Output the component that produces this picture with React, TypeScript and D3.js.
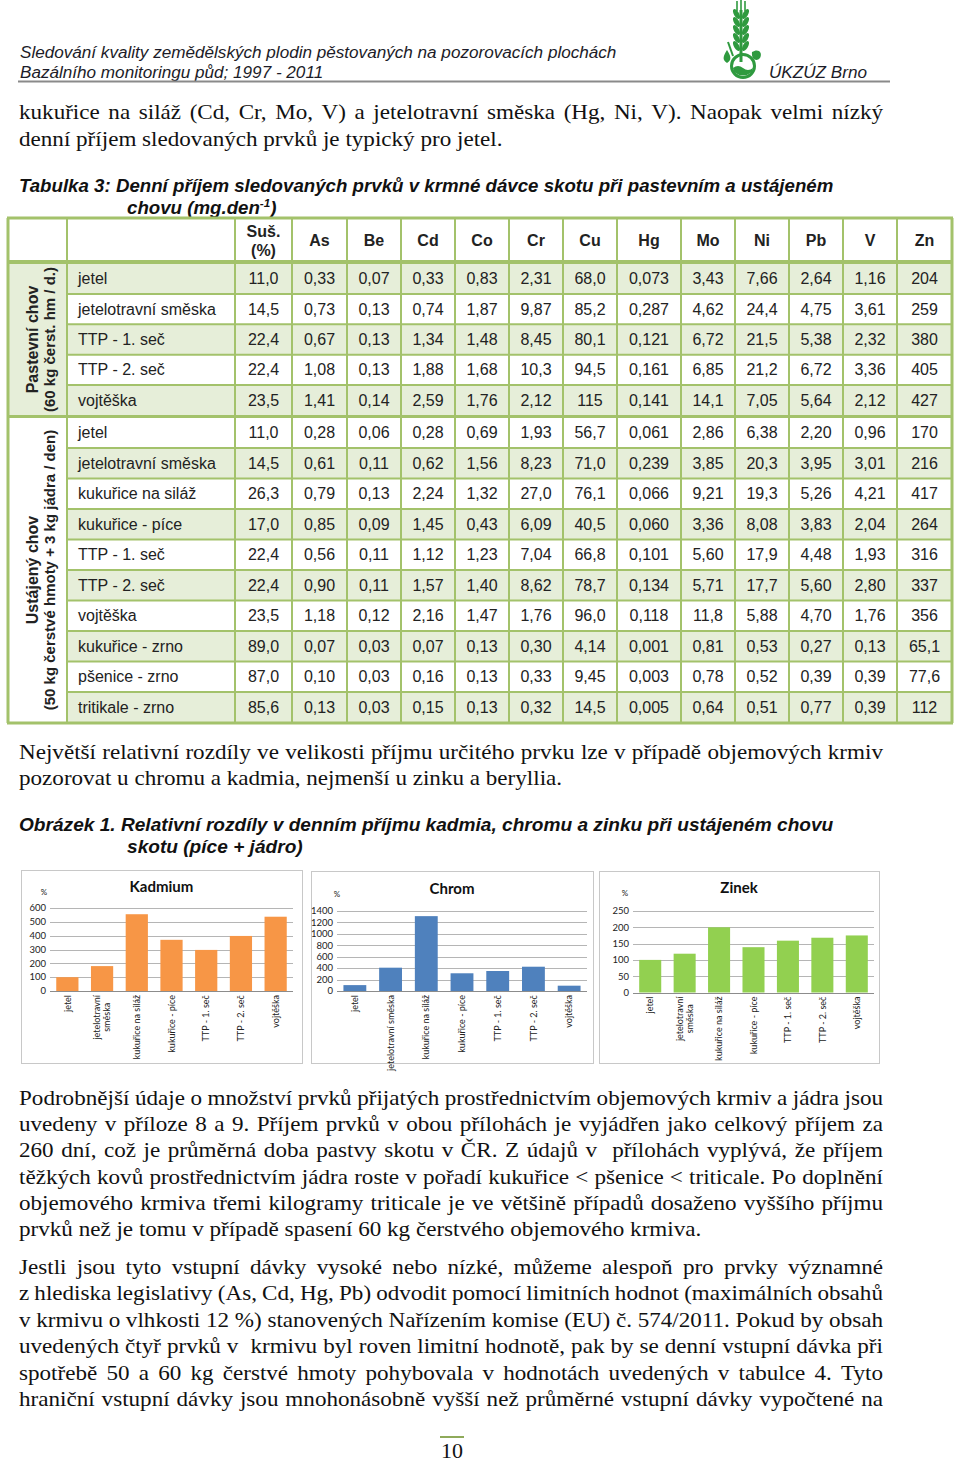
import React from "react";
import * as d3 from "d3";

// ---------------- DATA ----------------
const headerLine1 = "Sledování kvality zemědělských plodin pěstovaných na pozorovacích plochách";
const headerLine2 = "Bazálního monitoringu půd; 1997 - 2011";
const headerOrg = "ÚKZÚZ Brno";

const para1Lines = [
  "kukuřice na siláž (Cd, Cr, Mo, V) a jetelotravní směska (Hg, Ni, V). Naopak velmi nízký",
  "denní příjem sledovaných prvků je typický pro jetel.",
];
const tableCaption = "Tabulka 3: Denní příjem sledovaných prvků v krmné dávce skotu při pastevním a ustájeném";
const tableCaption2 = "chovu (mg.den";

const elementColumns = ["As", "Be", "Cd", "Co", "Cr", "Cu", "Hg", "Mo", "Ni", "Pb", "V", "Zn"];

const pastureLabel = ["Pastevní chov", "(60 kg čerst. hm / d.)"];
const pastureCrops = ["jetel", "jetelotravní směska", "TTP - 1. seč", "TTP - 2. seč", "vojtěška"];
const pastureValues = [
  ["11,0", "0,33", "0,07", "0,33", "0,83", "2,31", "68,0", "0,073", "3,43", "7,66", "2,64", "1,16", "204"],
  ["14,5", "0,73", "0,13", "0,74", "1,87", "9,87", "85,2", "0,287", "4,62", "24,4", "4,75", "3,61", "259"],
  ["22,4", "0,67", "0,13", "1,34", "1,48", "8,45", "80,1", "0,121", "6,72", "21,5", "5,38", "2,32", "380"],
  ["22,4", "1,08", "0,13", "1,88", "1,68", "10,3", "94,5", "0,161", "6,85", "21,2", "6,72", "3,36", "405"],
  ["23,5", "1,41", "0,14", "2,59", "1,76", "2,12", "115", "0,141", "14,1", "7,05", "5,64", "2,12", "427"],
];

const stableLabel = ["Ustájený chov", "(50 kg čerstvé hmoty + 3 kg jádra / den)"];
const stableCrops = [
  "jetel", "jetelotravní směska", "kukuřice na siláž", "kukuřice - píce", "TTP - 1. seč",
  "TTP - 2. seč", "vojtěška", "kukuřice - zrno", "pšenice - zrno", "tritikale - zrno",
];
const stableValues = [
  ["11,0", "0,28", "0,06", "0,28", "0,69", "1,93", "56,7", "0,061", "2,86", "6,38", "2,20", "0,96", "170"],
  ["14,5", "0,61", "0,11", "0,62", "1,56", "8,23", "71,0", "0,239", "3,85", "20,3", "3,95", "3,01", "216"],
  ["26,3", "0,79", "0,13", "2,24", "1,32", "27,0", "76,1", "0,066", "9,21", "19,3", "5,26", "4,21", "417"],
  ["17,0", "0,85", "0,09", "1,45", "0,43", "6,09", "40,5", "0,060", "3,36", "8,08", "3,83", "2,04", "264"],
  ["22,4", "0,56", "0,11", "1,12", "1,23", "7,04", "66,8", "0,101", "5,60", "17,9", "4,48", "1,93", "316"],
  ["22,4", "0,90", "0,11", "1,57", "1,40", "8,62", "78,7", "0,134", "5,71", "17,7", "5,60", "2,80", "337"],
  ["23,5", "1,18", "0,12", "2,16", "1,47", "1,76", "96,0", "0,118", "11,8", "5,88", "4,70", "1,76", "356"],
  ["89,0", "0,07", "0,03", "0,07", "0,13", "0,30", "4,14", "0,001", "0,81", "0,53", "0,27", "0,13", "65,1"],
  ["87,0", "0,10", "0,03", "0,16", "0,13", "0,33", "9,45", "0,003", "0,78", "0,52", "0,39", "0,39", "77,6"],
  ["85,6", "0,13", "0,03", "0,15", "0,13", "0,32", "14,5", "0,005", "0,64", "0,51", "0,77", "0,39", "112"],
];

const para2Lines = [
  "Největší relativní rozdíly ve velikosti příjmu určitého prvku lze v případě objemových krmiv",
  "pozorovat u chromu a kadmia, nejmenší u zinku a beryllia.",
];
const figureCaption = "Obrázek 1. Relativní rozdíly v denním příjmu kadmia, chromu a zinku při ustájeném chovu";
const figureCaption2 = "skotu (píce + jádro)";

const chartCategories = [
  "jetel", "jetelotravní směska", "kukuřice na siláž", "kukuřice - píce", "TTP - 1. seč", "TTP - 2. seč", "vojtěška",
];
const cadmiumRelative = [100, 180, 555, 370, 297, 398, 537];
const chromiumRelative = [103, 408, 1310, 310, 350, 425, 93];
const zincRelative = [100, 119, 200, 139, 159, 168, 175];
const cadmiumTicks = [0, 100, 200, 300, 400, 500, 600];
const chromiumTicks = [0, 200, 400, 600, 800, 1000, 1200, 1400];
const zincTicks = [0, 50, 100, 150, 200, 250];

const para3Lines = [
  "Podrobnější údaje o množství prvků přijatých prostřednictvím objemových krmiv a jádra jsou",
  "uvedeny v příloze 8 a 9. Příjem prvků v obou přílohách je vyjádřen jako celkový příjem za",
  "260 dní, což je průměrná doba pastvy skotu v ČR. Z údajů v  přílohách vyplývá, že příjem",
  "těžkých kovů prostřednictvím jádra roste v pořadí kukuřice < pšenice < triticale. Po doplnění",
  "objemového krmiva třemi kilogramy triticale je ve většině případů dosaženo vyššího příjmu",
  "prvků než je tomu v případě spasení 60 kg čerstvého objemového krmiva.",
];
const para4Lines = [
  "Jestli jsou tyto vstupní dávky vysoké nebo nízké, můžeme alespoň pro prvky významné",
  "z hlediska legislativy (As, Cd, Hg, Pb) odvodit pomocí limitních hodnot (maximálních obsahů",
  "v krmivu o vlhkosti 12 %) stanovených Nařízením komise (EU) č. 574/2011. Pokud by obsah",
  "uvedených čtyř prvků v  krmivu byl roven limitní hodnotě, pak by se denní vstupní dávka při",
  "spotřebě 50 a 60 kg čerstvé hmoty pohybovala v hodnotách uvedených v tabulce 4. Tyto",
  "hraniční vstupní dávky jsou mnohonásobně vyšší než průměrné vstupní dávky vypočtené na",
];
const pageNumber = "10";

// ---------------- STYLE / LAYOUT ----------------
const SANS = "'Liberation Sans', Arial, sans-serif";
const SERIF = "'Liberation Serif', 'Times New Roman', serif";
const CHART = "Lato, 'Open Sans', sans-serif";
const GREEN_LINE = "#a3c26b";
const GREEN_FILL = "#e6eed9";
const TEXT_W = 864;
const TEXT_X = 19;
const BODY_SIZE = 22;
const BODY_SX = 1.05;

let _ctx: CanvasRenderingContext2D | null = null;
function measure(text: string, font: string): number {
  if (!_ctx && typeof document !== "undefined") _ctx = document.createElement("canvas").getContext("2d");
  if (!_ctx) return text.length * 8;
  _ctx.font = font;
  return _ctx.measureText(text).width;
}

function BodyLine({ text, x, y, width, justify }: any) {
  const font = `${BODY_SIZE}px ${SERIF}`;
  const tr = `translate(${x},${y}) scale(${BODY_SX},1)`;
  if (!justify) {
    return (
      <text transform={tr} fontFamily={SERIF} fontSize={BODY_SIZE} fill="#111">{text}</text>
    );
  }
  const localW = width / BODY_SX;
  const words = text.split(/ /);
  const widths = words.map((w: string) => measure(w, font));
  const total = d3.sum(widths);
  const gap = (localW - total) / (words.length - 1);
  let cx = 0;
  const spans = words.map((w: string, i: number) => {
    const el = <tspan key={i} x={cx}>{w}</tspan>;
    cx += widths[i] + gap;
    return el;
  });
  return (
    <text transform={tr} fontFamily={SERIF} fontSize={BODY_SIZE} fill="#111">{spans}</text>
  );
}

function Paragraph({ lines, y0, lineH, lastJustified }: any) {
  return (
    <g>
      {lines.map((l: string, i: number) => (
        <BodyLine key={i} text={l} x={TEXT_X} y={y0 + i * lineH} width={TEXT_W}
          justify={i < lines.length - 1 || lastJustified} />
      ))}
    </g>
  );
}

function Caption({ line1, line2, sup, y }: any) {
  const size = 17.5;
  const font = `italic bold ${size}px ${SANS}`;
  const natural = measure(line1, font);
  const sx = 815 / natural;
  return (
    <g fontFamily={SANS} fontStyle="italic" fontWeight="bold" fontSize={size} fill="#111">
      <text transform={`translate(${TEXT_X},${y}) scale(${sx},1)`}>{line1}</text>
      <text transform={`translate(127,${y + 22}) scale(${sx},1)`}>
        {line2}
        {sup ? (
          <>
            <tspan dy={-7} fontSize={11}>{sup}</tspan>
            <tspan dy={7}>)</tspan>
          </>
        ) : null}
      </text>
    </g>
  );
}

function Logo() {
  const g = "#2f9a3f";
  const grains = [14, 22, 30, 38, 46];
  return (
    <g fill={g} stroke="none">
      <line x1={737} y1={1} x2={737} y2={11} stroke={g} strokeWidth={1.6} />
      <line x1={741} y1={0} x2={741} y2={10} stroke={g} strokeWidth={1.6} />
      <line x1={745} y1={1} x2={745} y2={11} stroke={g} strokeWidth={1.6} />
      <line x1={741} y1={10} x2={741} y2={62} stroke={g} strokeWidth={3} />
      {grains.map((gy, i) => (
        <g key={i}>
          <ellipse cx={736.5} cy={gy} rx={2.6} ry={5.5} transform={`rotate(-30 736.5 ${gy})`} />
          <ellipse cx={745.5} cy={gy} rx={2.6} ry={5.5} transform={`rotate(30 745.5 ${gy})`} />
        </g>
      ))}
      <path d="M727,50 C723,56 722,60 727,63 C732,60 731,56 727,50 Z" />
      <path d="M752,52 C758,48 763,52 760,58 C757,62 751,60 752,52 Z" />
      <circle cx={743} cy={66} r={11.5} fill="none" stroke={g} strokeWidth={3} />
      <path d="M733,68 Q738,64 743,68 T753,68 L752,72 Q743,79 734,72 Z" />
      <line x1={728} y1={42} x2={733} y2={56} stroke={g} strokeWidth={2} />
    </g>
  );
}

function Header() {
  const size = 17;
  const font = `italic ${size}px ${SANS}`;
  const sx = 597 / measure(headerLine1, font);
  return (
    <g fontFamily={SANS} fontStyle="italic" fontSize={size} fill="#1c1c28">
      <text transform={`translate(20,58) scale(${sx},1)`}>{headerLine1}</text>
      <text transform={`translate(20,78) scale(${sx},1)`}>{headerLine2}</text>
      <text transform={`translate(769,78) scale(${sx},1)`}>{headerOrg}</text>
      <line x1={18} x2={890} y1={81.5} y2={81.5} stroke="#8a8a8a" strokeWidth={2} />
      <Logo />
    </g>
  );
}

const COL_EDGES = [8, 67, 235, 292, 347, 401, 455, 509, 563, 617, 681, 735, 789, 843, 897, 952];
const TABLE_TOP = 218;
const HEADER_BOTTOM = 262;

function Table() {
  const groups = [
    { label: pastureLabel, crops: pastureCrops, values: pastureValues, top: 263.5, rowH: 30.4, firstFill: true, labelFill: GREEN_FILL },
    { label: stableLabel, crops: stableCrops, values: stableValues, top: 417.5, rowH: 30.5, firstFill: false, labelFill: "#fff" },
  ];
  const left = COL_EDGES[0];
  const right = COL_EDGES[COL_EDGES.length - 1];
  const fills: any[] = [];
  const hLines: any[] = [];
  const texts: any[] = [];
  groups.forEach((grp, gi) => {
    const bottom = grp.top + grp.crops.length * grp.rowH;
    fills.push(<rect key={`gl${gi}`} x={left} y={grp.top} width={COL_EDGES[1] - left} height={bottom - grp.top} fill={grp.labelFill} />);
    grp.crops.forEach((crop, ri) => {
      const y = grp.top + ri * grp.rowH;
      const green = (ri % 2 === 0) === grp.firstFill;
      if (green) fills.push(<rect key={`f${gi}-${ri}`} x={COL_EDGES[1]} y={y} width={right - COL_EDGES[1]} height={grp.rowH} fill={GREEN_FILL} />);
      if (ri > 0) hLines.push(<line key={`h${gi}-${ri}`} x1={COL_EDGES[1]} x2={right} y1={y} y2={y} stroke={GREEN_LINE} strokeWidth={2} />);
      const cy = y + grp.rowH / 2 + 5.5;
      texts.push(<text key={`n${gi}-${ri}`} x={COL_EDGES[1] + 11} y={cy}>{crop}</text>);
      grp.values[ri].forEach((v, ci) => {
        const cx = (COL_EDGES[ci + 2] + COL_EDGES[ci + 3]) / 2;
        texts.push(<text key={`v${gi}-${ri}-${ci}`} x={cx} y={cy} textAnchor="middle">{v}</text>);
      });
    });
    const cyMid = (grp.top + bottom) / 2;
    const xs = [32, 50];
    const sizes = [16, 15];
    grp.label.forEach((l, li) => {
      texts.push(
        <text key={`gl${gi}-${li}`} transform={`translate(${xs[li]},${cyMid}) rotate(-90)`} textAnchor="middle" dy="0.36em" fontWeight="bold" fontSize={sizes[li]}>{l}</text>
      );
    });
  });
  const headers = ["", ...elementColumns];
  return (
    <g fontFamily={SANS} fontSize={16} fill="#222">
      <rect x={left} y={TABLE_TOP} width={right - left} height={HEADER_BOTTOM - TABLE_TOP} fill="#fff" />
      {fills}
      {hLines}
      {COL_EDGES.map((x, i) => (
        <line key={`v${i}`} x1={x} x2={x} y1={TABLE_TOP} y2={723} stroke={GREEN_LINE} strokeWidth={i === 0 || i === COL_EDGES.length - 1 ? 3 : 2} />
      ))}
      {[TABLE_TOP, HEADER_BOTTOM, 416.5, 723].map((y, i) => (
        <line key={`t${i}`} x1={left - 1} x2={right + 1} y1={y} y2={y} stroke={GREEN_LINE} strokeWidth={i === 1 ? 4 : 3} />
      ))}
      <g fontWeight="bold">
        <text x={(COL_EDGES[2] + COL_EDGES[3]) / 2} y={237} textAnchor="middle">Suš.</text>
        <text x={(COL_EDGES[2] + COL_EDGES[3]) / 2} y={256} textAnchor="middle">(%)</text>
        {headers.map((h, i) => (i === 0 ? null : (
          <text key={h} x={(COL_EDGES[i + 2] + COL_EDGES[i + 3]) / 2} y={246} textAnchor="middle">{h}</text>
        )))}
      </g>
      {texts}
    </g>
  );
}

function BarChart({ cfg }: any) {
  const x = d3.scaleBand().domain(chartCategories).range([cfg.plotLeft, cfg.plotRight]).paddingInner(0.36).paddingOuter(0.18);
  const y = d3.scaleLinear().domain([0, d3.max(cfg.ticks) as number]).range([cfg.plotBottom, cfg.plotTop]);
  const labelSize = 9;
  const labelFont = `${labelSize}px ${CHART}`;
  return (
    <g fontFamily={CHART}>
      <rect x={cfg.box[0] + 0.5} y={cfg.box[1] + 0.5} width={cfg.box[2] - cfg.box[0]} height={cfg.box[3] - cfg.box[1]} fill="#fff" stroke="#c8c8c8" />
      <text x={(cfg.box[0] + cfg.box[2]) / 2} y={cfg.titleY} dy="0.35em" textAnchor="middle" fontWeight="bold" fontSize={15} fill="#111">{cfg.title}</text>
      <text x={cfg.pct[0]} y={cfg.pct[1]} dy="0.35em" textAnchor="middle" fontSize={8} fill="#222">%</text>
      {cfg.ticks.map((t: number) => (
        <g key={t}>
          <line x1={cfg.plotLeft} x2={cfg.plotRight} y1={Math.round(y(t)) + 0.5} y2={Math.round(y(t)) + 0.5} stroke={t === 0 ? "#8c8c8c" : "#b5b5b5"} />
          <text x={cfg.plotLeft - 4} y={y(t)} dy="0.35em" textAnchor="end" fontSize={9.5} fill="#222">{t}</text>
        </g>
      ))}
      {cfg.values.map((v: number, i: number) => {
        const c = chartCategories[i];
        return <rect key={c} x={x(c)} y={y(v)} width={x.bandwidth()} height={y(0) - y(v)} fill={cfg.color} />;
      })}
      {chartCategories.map((c) => {
        const lines = c.length > cfg.wrapAt ? c.split(" ") : [c];
        const longest = d3.max(lines, (l) => measure(l, labelFont)) as number;
        const cx = (x(c) as number) + x.bandwidth() / 2;
        const cy = cfg.plotBottom + 4 + longest / 2;
        return lines.map((l, li) => (
          <text key={c + li} transform={`translate(${cx + (li - (lines.length - 1) / 2) * 10},${cy}) rotate(-90)`} textAnchor="middle" dy="0.35em" fontSize={labelSize} fill="#222">{l}</text>
        ));
      })}
    </g>
  );
}

const charts = [
  { title: "Kadmium", values: cadmiumRelative, ticks: cadmiumTicks, color: "#f79646", box: [21, 870, 302, 1063], plotLeft: 50, plotRight: 293, plotTop: 908, plotBottom: 991, titleY: 887, pct: [44, 892], wrapAt: 18 },
  { title: "Chrom", values: chromiumRelative, ticks: chromiumTicks, color: "#4f81bd", box: [311, 871, 593, 1063], plotLeft: 337, plotRight: 587, plotTop: 911, plotBottom: 991, titleY: 889, pct: [337, 894], wrapAt: 99 },
  { title: "Zinek", values: zincRelative, ticks: zincTicks, color: "#92d050", box: [599, 871, 879, 1063], plotLeft: 633, plotRight: 874, plotTop: 911, plotBottom: 992.5, titleY: 888, pct: [625, 893], wrapAt: 18 },
];

export default function App() {
  return (
    <div style={{ position: "absolute", left: 0, top: 0, width: 960, height: 1462, background: "#fff" }}>
      <svg width={960} height={1462} viewBox="0 0 960 1462" style={{ display: "block" }}>
        <rect width={960} height={1462} fill="#fff" />
        <Header />
        <Paragraph lines={para1Lines} y0={119} lineH={27} lastJustified={false} />
        <Caption line1={tableCaption} line2={tableCaption2} sup="-1" y={192} />
        <Table />
        <Paragraph lines={para2Lines} y0={759} lineH={26} lastJustified={false} />
        <Caption line1={figureCaption} line2={figureCaption2} y={831} />
        {charts.map((c) => <BarChart key={c.title} cfg={c} />)}
        <Paragraph lines={para3Lines} y0={1105} lineH={26.2} lastJustified={false} />
        <Paragraph lines={para4Lines} y0={1274} lineH={26.4} lastJustified={true} />
        <line x1={440} x2={464} y1={1437} y2={1437} stroke="#8faa5a" strokeWidth={2} />
        <text x={452} y={1458} textAnchor="middle" fontFamily={SERIF} fontSize={22} fill="#111">{pageNumber}</text>
      </svg>
    </div>
  );
}
